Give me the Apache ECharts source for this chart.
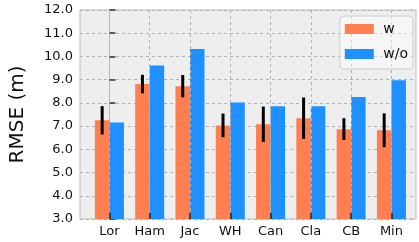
<!DOCTYPE html>
<html>
<head>
<meta charset="utf-8">
<script src="https://cdn.jsdelivr.net/npm/echarts@6/dist/echarts.min.js"></script>
<style>
  html, body { margin: 0; padding: 0; background: #fff; }
  #chart { width: 419px; height: 242px; }
</style>
</head>
<body>
<div id="chart"></div>
<script>
// data
var sites = ["Lor", "Ham", "Jac", "WH", "Can", "Cla", "CB", "Min"];
var rmseWith = [7.25, 8.81, 8.72, 7.03, 7.08, 7.34, 6.87, 6.82];
var rmseWithErr = [0.61, 0.4, 0.48, 0.51, 0.76, 0.89, 0.47, 0.73];
var rmseWithout = [7.16, 9.61, 10.32, 8.02, 7.86, 7.86, 8.25, 8.98];
var yTicks = [3, 4, 5, 6, 7, 8, 9, 10, 11, 12];

var font = "DejaVu Sans";
var barW = 0.36; // bar width in category units
var yBase = yTicks[0];

var myChart = echarts.init(document.getElementById("chart"));

var idx = sites.map(function (s, i) { return i; });

// side = -1 for left bar, 0 for right bar
function barRenderer(side) {
  return function (params, api) {
    var x = api.value(0);
    var top = api.coord([x + side * barW, api.value(1)]);
    var bot = api.coord([x + (side + 1) * barW, yBase]);
    return {
      type: "rect",
      shape: { x: top[0], y: top[1], width: bot[0] - top[0], height: bot[1] - top[1] },
      style: { fill: api.visual("color") }
    };
  };
}

var option = {
  animation: false,
  textStyle: { fontFamily: font },
  grid: {
    left: 74,
    right: 3,
    top: 10,
    bottom: 23,
    show: true,
    backgroundColor: "#eeeeee",
    borderColor: "#bcbcbc",
    borderWidth: 1
  },
  legend: {
    orient: "vertical",
    right: 6,
    top: 16,
    itemWidth: 29,
    itemHeight: 10,
    itemGap: 11,
    padding: [6, 5, 8, 5],
    backgroundColor: "rgba(255,255,255,0.45)",
    borderColor: "#cccccc",
    borderWidth: 1,
    borderRadius: 4,
    textStyle: { fontFamily: font, fontSize: 14, color: "#111" },
    formatter: function (name) { return " " + name; },
    data: [
      { name: "w", icon: "rect" },
      { name: "w/o", icon: "rect" }
    ]
  },
  xAxis: {
    type: "value",
    min: -0.73,
    max: 7.61,
    z: 3,
    axisLine: { show: false },
    axisTick: {
      show: true,
      inside: true,
      length: 6,
      customValues: idx,
      lineStyle: { color: "#222", width: 1.5 }
    },
    axisLabel: {
      customValues: idx,
      fontSize: 13,
      color: "#111",
      margin: 6,
      formatter: function (v) { return sites[Math.round(v)]; }
    },
    splitLine: {
      show: true,
      lineStyle: { color: "#b2b2b2", type: [3, 3], width: 1 }
    }
  },
  yAxis: {
    type: "value",
    min: yTicks[0],
    max: yTicks[yTicks.length - 1],
    interval: 1,
    name: "RMSE (m)",
    nameLocation: "middle",
    nameGap: 52,
    nameTextStyle: { fontSize: 20, color: "#111", fontFamily: font },
    axisLine: { show: true, lineStyle: { color: "#bcbcbc" } },
    axisTick: { show: true, inside: true, length: 6, lineStyle: { color: "#333", width: 1.5 } },
    axisLabel: {
      fontSize: 13,
      color: "#111",
      margin: 7,
      formatter: function (v) { return v.toFixed(1); }
    },
    splitLine: {
      show: true,
      lineStyle: { color: "#b2b2b2", type: [3, 3], width: 1 }
    }
  },
  series: [
    {
      name: "w",
      type: "custom",
      itemStyle: { color: "#ff7f50" },
      encode: { x: 0, y: 1 },
      data: rmseWith.map(function (v, i) { return [i, v]; }),
      renderItem: barRenderer(-1)
    },
    {
      name: "w/o",
      type: "custom",
      itemStyle: { color: "#1e90ff" },
      encode: { x: 0, y: 1 },
      data: rmseWithout.map(function (v, i) { return [i, v]; }),
      renderItem: barRenderer(0)
    },
    {
      name: "err",
      type: "custom",
      z: 5,
      encode: { x: 0, y: [1, 2] },
      data: rmseWith.map(function (v, i) {
        return [i, v - rmseWithErr[i], v + rmseWithErr[i]];
      }),
      renderItem: function (params, api) {
        var x = api.value(0) - barW / 2;
        var lo = api.coord([x, api.value(1)]);
        var hi = api.coord([x, api.value(2)]);
        return {
          type: "line",
          shape: { x1: lo[0], y1: lo[1], x2: hi[0], y2: hi[1] },
          style: { stroke: "#000", lineWidth: 3 }
        };
      }
    }
  ]
};

myChart.setOption(option);
</script>
</body>
</html>
